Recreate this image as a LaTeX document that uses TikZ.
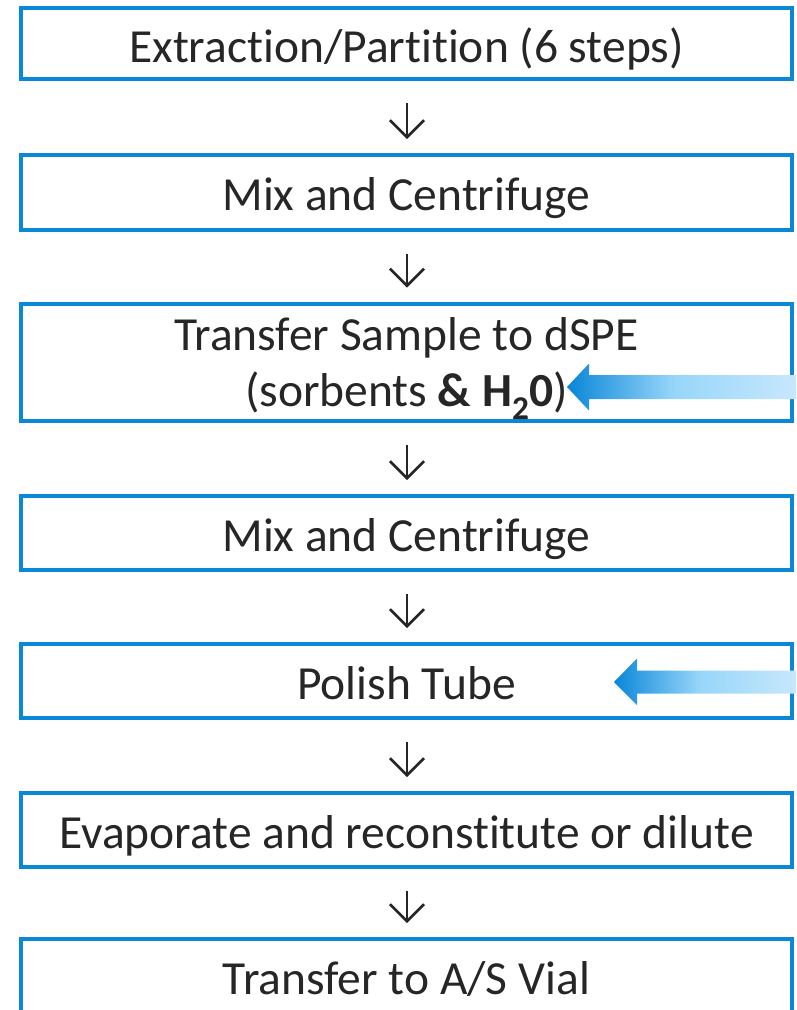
\documentclass[tikz,border=0pt]{standalone}
\usepackage{fontspec}
\setmainfont{Carlito}[Ligatures=NoCommon]
\usetikzlibrary{arrows.meta}
\definecolor{boxblue}{HTML}{0A88D8}
\definecolor{txt}{HTML}{262626}
\definecolor{gA}{HTML}{0A86D8}
\definecolor{gB}{HTML}{97D6FA}
\definecolor{gC}{HTML}{C9E8FC}
\pgfdeclarehorizontalshading{bluegrad}{100bp}{color(0bp)=(gA); color(25bp)=(gA); color(48bp)=(gB); color(75bp)=(gC); color(100bp)=(gC)}
\tikzset{
  stepbox/.style={draw=boxblue, line width=4pt, minimum width=771pt, inner sep=0pt,
    text=txt, font=\fontsize{47.5}{56}\selectfont, align=center},
  oneline/.style={text height=37pt, text depth=0pt},
  downarr/.style={draw=txt, line width=2.6pt, -{Straight Barb[length=17pt,width=34pt]},
    shorten <=22pt, shorten >=14pt},
  gradarrow/.style={shading=bluegrad}
}
\begin{document}
\begin{tikzpicture}[x=1pt,y=1pt]
\useasboundingbox (0,0) rectangle (796,-1010);
\clip (0,0) rectangle (796,-1010);
\node[stepbox, oneline, minimum height=71pt] (b1) at (406.5,-43.5) {Extraction/Partition (6 steps)};
\node[stepbox, oneline, minimum height=74.5pt] (b2) at (406.5,-192.25) {Mix and Centrifuge};
\node[stepbox, minimum height=117.5pt] (b3) at (406.5,-362.25) {};
\node[text=txt, font=\fontsize{47.5}{56}\selectfont, align=center, inner sep=0pt] (b3t) at ([yshift=-6pt]b3.center) {Transfer Sample to dSPE\\(sorbents \textbf{\& H\textsubscript{2}0})};
\node[stepbox, oneline, minimum height=74pt] (b4) at (406.5,-533) {Mix and Centrifuge};
\node[stepbox, oneline, minimum height=74pt] (b5) at (406.5,-681) {Polish Tube};
\node[stepbox, oneline, minimum height=74pt] (b6) at (406.5,-830) {Evaporate and reconstitute or dilute};
\node[stepbox, oneline, minimum height=74pt] (b7) at (406.5,-976) {Transfer to A/S Vial};
\foreach \a/\b in {b1/b2,b2/b3,b3/b4,b4/b5,b5/b6,b6/b7}
  \draw[downarr] ([xshift=0.5pt]\a.south) -- ([xshift=0.5pt]\b.north);
\coordinate (tipA) at (567,-387);
\coordinate (tipB) at (614,-682);
\path[gradarrow] (tipA) -- ++(22,23.5) -- ++(0,-11.5) -- ++(211,0) -- ++(0,-24) -- ++(-211,0) -- ++(0,-11.5) -- cycle;
\path[gradarrow] (tipB) -- ++(23,23.5) -- ++(0,-12) -- ++(163,0) -- ++(0,-23) -- ++(-163,0) -- ++(0,-11.5) -- cycle;
\end{tikzpicture}
\end{document}
